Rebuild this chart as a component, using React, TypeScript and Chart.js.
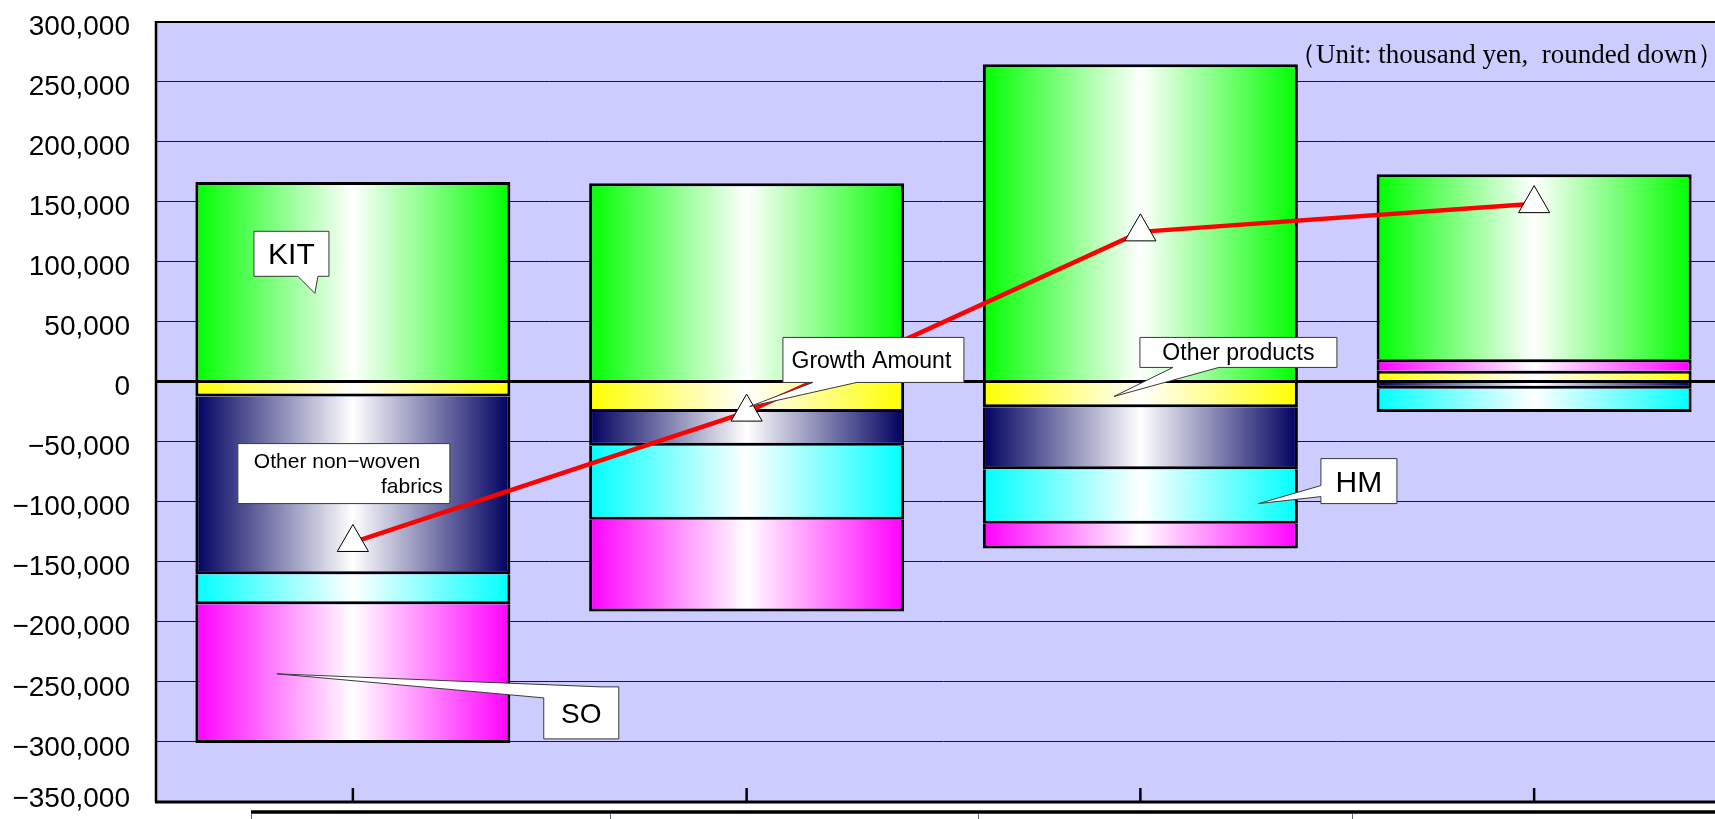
import React, { useEffect, useRef } from 'react';
import { Chart, registerables } from 'chart.js';

Chart.register(...registerables);

// ---- data (thousand yen) ----
const categories = ['Period 1', 'Period 2', 'Period 3', 'Period 4'];
const otherProducts = [-12500, -25500, -21500, 9000];
const otherNonWoven = [-148000, -28000, -51500, -6000];
const hmValues = [-25000, -61500, -45500, -19500];
const soValues = [-115500, -76500, -20500, 9500];
const kitValues = [166000, 165000, 264000, 154000];
const growthAmount = [-134000, -25500, 124500, 148000];

const seriesNames = ['Other products', 'Other non-woven fabrics', 'HM', 'SO', 'KIT', 'Growth Amount'];
const yMin = -350000;
const yMax = 300000;
const yStep = 50000;
const unitNote = '（Unit: thousand yen,  rounded down）';

// ---- styling / layout ----
const CANVAS_W = 1733;
const CANVAS_H = 819;
const AXIS_W = 156;
const BAR_PCT = 0.8;
const PLOT_BG = '#CCCCFF';
const SANS = "'Liberation Sans', Arial, sans-serif";
const SERIF = "'Liberation Serif', 'Times New Roman', serif";

type Line = { t: string; dx: number; dy: number; align: CanvasTextAlign };
type Callout = {
  lines: Line[];
  size: number;
  at: [number, number]; // [category position, value]
  w: number;
  h: number;
  tip?: [number, number];
  base?: [number, number][];
};

const callouts: Callout[] = [
  { lines: [{ t: 'KIT', dx: 0, dy: 10.5, align: 'center' }], size: 30, at: [-0.156, 106250], w: 75, h: 45, tip: [-0.0965, 73300], base: [[6.5, 22.5], [26.5, 22.5]] },
  { lines: [{ t: 'Other non−woven', dx: -90, dy: -6, align: 'left' }, { t: 'fabrics', dx: 99, dy: 19, align: 'right' }], size: 21, at: [-0.0229, -76667], w: 212, h: 60 },
  { lines: [{ t: 'SO', dx: 0, dy: 10, align: 'center' }], size: 28, at: [0.58, -275833], w: 75, h: 52, tip: [-0.193, -243333], base: [[-37.5, -15], [19.5, -26]] },
  { lines: [{ t: 'Growth Amount', dx: -2, dy: 8, align: 'center' }], size: 23, at: [1.322, 17917], w: 181, h: 45, tip: [1.008, -20833], base: [[-60.5, 22.5], [-16.5, 22.5]] },
  { lines: [{ t: 'Other products', dx: 0, dy: 8, align: 'center' }], size: 23, at: [2.249, 24167], w: 197, h: 30, tip: [1.933, -12500], base: [[-65.5, 15], [-19.5, 15]] },
  { lines: [{ t: 'HM', dx: 0, dy: 10.5, align: 'center' }], size: 30, at: [2.555, -82917], w: 76, h: 45, tip: [2.3, -101667], base: [[-38, 4.5], [-38, 15.5]] },
];

function perimT(p: [number, number], w: number, h: number): number {
  const [dx, dy] = p;
  const e = 0.6;
  if (Math.abs(dy + h / 2) < e) return dx + w / 2;
  if (Math.abs(dx - w / 2) < e) return w + (dy + h / 2);
  if (Math.abs(dy - h / 2) < e) return w + h + (w / 2 - dx);
  return 2 * w + h + (h / 2 - dy);
}

function drawCallout(ctx: CanvasRenderingContext2D, c: Callout, cx: number, cy: number, tip: [number, number] | null) {
  const { w, h } = c;
  const corners: [number, number, number][] = [
    [0, -w / 2, -h / 2],
    [w, w / 2, -h / 2],
    [w + h, w / 2, h / 2],
    [2 * w + h, -w / 2, h / 2],
  ];
  ctx.save();
  ctx.beginPath();
  if (tip && c.base) {
    const P = 2 * w + 2 * h;
    const p1 = c.base[0];
    const p2 = c.base[1];
    const t1 = perimT(p1, w, h);
    const t2 = perimT(p2, w, h);
    const d = (t2 - t1 + P) % P;
    let from = p1, to = p2, tFrom = t1, tTo = t2;
    if (d >= P / 2) { from = p2; to = p1; tFrom = t2; tTo = t1; }
    let end = tFrom;
    if (end <= tTo) end += P;
    ctx.moveTo(cx + to[0], cy + to[1]);
    const all: [number, number, number][] = [];
    for (const k of corners) { all.push(k); all.push([k[0] + P, k[1], k[2]]); }
    all.sort((a, b) => a[0] - b[0]);
    for (const k of all) {
      if (k[0] > tTo && k[0] < end) ctx.lineTo(cx + k[1], cy + k[2]);
    }
    ctx.lineTo(cx + from[0], cy + from[1]);
    ctx.lineTo(tip[0], tip[1]);
    ctx.closePath();
  } else {
    ctx.rect(cx - w / 2, cy - h / 2, w, h);
  }
  ctx.fillStyle = '#ffffff';
  ctx.fill();
  ctx.strokeStyle = '#3a3a3a';
  ctx.lineWidth = 1;
  ctx.stroke();
  ctx.fillStyle = '#000000';
  ctx.font = `${c.size}px ${SANS}`;
  ctx.textBaseline = 'alphabetic';
  for (const ln of c.lines) {
    ctx.textAlign = ln.align;
    ctx.fillText(ln.t, cx + ln.dx, cy + ln.dy);
  }
  ctx.restore();
}

export default function App() {
  const ref = useRef<HTMLCanvasElement>(null);

  useEffect(() => {
    const canvas = ref.current;
    if (!canvas) return;

    const gradientFill = (color: string) => (ctx: any) => {
      const chart = ctx.chart;
      const area = chart.chartArea;
      const xs = chart.scales && chart.scales.x;
      if (!area || !xs || ctx.dataIndex == null) return color;
      const step = (area.right - area.left) / categories.length;
      const w = step * BAR_PCT;
      const cx = xs.getPixelForValue(ctx.dataIndex);
      const g = chart.ctx.createLinearGradient(cx - w / 2, 0, cx + w / 2, 0);
      g.addColorStop(0, color);
      g.addColorStop(0.5, '#ffffff');
      g.addColorStop(1, color);
      return g;
    };

    const LINE_INDEX = 5;

    const decor = {
      id: 'decor',
      beforeDraw(chart: any) {
        const { ctx, chartArea: a } = chart;
        ctx.save();
        ctx.fillStyle = PLOT_BG;
        ctx.fillRect(a.left, a.top, a.right - a.left, a.bottom - a.top);
        ctx.restore();
      },
      beforeDatasetDraw(chart: any, args: any) {
        if (args.index !== LINE_INDEX) return;
        const { ctx, chartArea: a } = chart;
        const y0 = chart.scales.y.getPixelForValue(0);
        ctx.save();
        ctx.strokeStyle = '#000';
        ctx.lineWidth = 3;
        ctx.beginPath();
        ctx.moveTo(a.left, y0);
        ctx.lineTo(a.right, y0);
        ctx.stroke();
        ctx.restore();
      },
      afterDraw(chart: any) {
        const { ctx, chartArea: a } = chart;
        const xs = chart.scales.x;
        const ys = chart.scales.y;
        ctx.save();
        // plot border
        ctx.strokeStyle = '#000';
        ctx.lineWidth = 2;
        ctx.beginPath();
        ctx.moveTo(a.left, a.top + 1);
        ctx.lineTo(a.right, a.top + 1);
        ctx.stroke();
        ctx.lineWidth = 2.5;
        ctx.beginPath();
        ctx.moveTo(a.left, a.top);
        ctx.lineTo(a.left, a.bottom);
        ctx.stroke();
        ctx.lineWidth = 3;
        ctx.beginPath();
        ctx.moveTo(a.left - 1, a.bottom);
        ctx.lineTo(a.right, a.bottom);
        ctx.stroke();
        // category tick marks (inside)
        ctx.lineWidth = 2.5;
        for (let i = 0; i < categories.length; i++) {
          const x = xs.getPixelForValue(i);
          ctx.beginPath();
          ctx.moveTo(x, a.bottom);
          ctx.lineTo(x, a.bottom - 14);
          ctx.stroke();
        }
        // unit note
        ctx.fillStyle = '#000';
        ctx.font = `27px ${SERIF}`;
        ctx.textAlign = 'right';
        ctx.textBaseline = 'alphabetic';
        ctx.fillText(unitNote, 1724, a.top + 42);
        // data table top edge (below the axis)
        ctx.strokeStyle = '#000';
        ctx.lineWidth = 3.5;
        ctx.beginPath();
        ctx.moveTo(251, a.bottom + 10);
        ctx.lineTo(CANVAS_W, a.bottom + 10);
        ctx.stroke();
        ctx.strokeStyle = '#666';
        ctx.lineWidth = 1;
        for (const x of [251.5, 610.5, 978.5, 1352.5]) {
          ctx.beginPath();
          ctx.moveTo(x, a.bottom + 12);
          ctx.lineTo(x, CANVAS_H);
          ctx.stroke();
        }
        ctx.restore();
        // callouts
        const x0 = xs.getPixelForValue(0);
        const step = xs.getPixelForValue(1) - x0;
        const px = (c: number) => x0 + c * step;
        for (const c of callouts) {
          const cx = px(c.at[0]);
          const cy = ys.getPixelForValue(c.at[1]);
          const tip: [number, number] | null = c.tip ? [px(c.tip[0]), ys.getPixelForValue(c.tip[1])] : null;
          drawCallout(ctx, c, cx, cy, tip);
        }
      },
    };

    const barDs = (label: string, data: number[], color: string) => ({
      type: 'bar' as const,
      label,
      data,
      backgroundColor: gradientFill(color),
      borderColor: '#000000',
      borderWidth: 3,
      borderSkipped: 'start' as const,
      barPercentage: BAR_PCT,
      categoryPercentage: 1,
      order: 1,
    });

    const chart = new Chart(canvas, {
      type: 'bar',
      data: {
        labels: categories,
        datasets: [
          barDs(seriesNames[0], otherProducts, '#FFFF00'),
          barDs(seriesNames[1], otherNonWoven, '#000060'),
          barDs(seriesNames[2], hmValues, '#00FFFF'),
          barDs(seriesNames[3], soValues, '#FF00FF'),
          barDs(seriesNames[4], kitValues, '#00FF00'),
          {
            type: 'line' as const,
            label: seriesNames[5],
            data: growthAmount,
            borderColor: '#FF0000',
            borderWidth: 4.5,
            tension: 0,
            pointStyle: 'triangle',
            pointRadius: 18,
            pointHoverRadius: 18,
            pointBackgroundColor: '#FFFFFF',
            pointBorderColor: '#000000',
            pointBorderWidth: 1,
            order: 0,
          } as any,
        ],
      },
      options: {
        animation: false,
        responsive: false,
        maintainAspectRatio: false,
        devicePixelRatio: 1,
        events: [],
        layout: { autoPadding: false, padding: { left: 0, top: 21, right: 2, bottom: 17 } },
        plugins: {
          legend: { display: false },
          tooltip: { enabled: false },
          title: { display: false },
        },
        scales: {
          x: {
            type: 'category',
            stacked: true,
            offset: true,
            grid: { display: false },
            border: { display: false },
            ticks: { display: false },
            afterFit: (s: any) => { s.height = 0; },
          },
          y: {
            type: 'linear',
            stacked: true,
            min: yMin,
            max: yMax,
            border: { display: false },
            grid: {
              color: (c: any) => (c.tick && c.tick.value === 0 ? '#000' : '#1a1a1a'),
              lineWidth: (c: any) => (c.tick && c.tick.value === 0 ? 3 : 1),
              drawTicks: true,
              tickLength: 26,
              tickColor: 'rgba(0,0,0,0)',
            },
            ticks: {
              stepSize: yStep,
              autoSkip: false,
              padding: 0,
              labelOffset: 6,
              color: '#000',
              font: (c: any) => ({ family: SANS, size: 28, lineHeight: c.tick && c.tick.value === yMin ? 0.6 : 1.2 }),
              callback: (v: any) => {
                const n = Number(v);
                const s = Math.abs(n).toLocaleString('en-US');
                const txt = n < 0 ? '−' + s : s;
                return n === yMin ? [txt, ''] : txt;
              },
            },
            afterFit: (s: any) => { s.width = AXIS_W; },
          },
        },
      } as any,
      plugins: [decor],
    });

    return () => chart.destroy();
  }, []);

  return (
    <div style={{ position: 'absolute', left: 0, top: 0, width: 1715, height: 819, overflow: 'hidden', background: '#fff' }}>
      <canvas ref={ref} width={CANVAS_W} height={CANVAS_H} style={{ display: 'block', width: CANVAS_W, height: CANVAS_H }} />
    </div>
  );
}
